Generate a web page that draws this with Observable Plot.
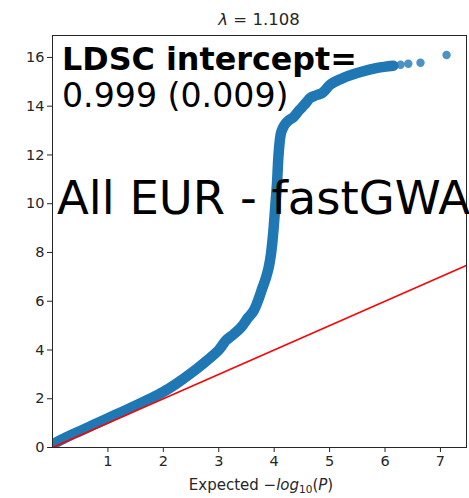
<!DOCTYPE html>
<html>
<head>
<meta charset="utf-8">
<script src="https://cdn.jsdelivr.net/npm/d3@7"></script>
<script src="https://cdn.jsdelivr.net/npm/@observablehq/plot@0.6"></script>
<style>
  html, body { margin: 0; padding: 0; background: #fff; }
  #chart svg { display: block; }
</style>
</head>
<body>
<div id="chart"></div>
<script>
// ---- data ----
const titleText = "1.108";
const xLabelParts = ["Expected ", "\u2212", "log", "10", "(", "P", ")"];
const annoBold = "LDSC intercept=";
const annoValue = "0.999 (0.009)";
const annoGroup = "All EUR - fastGWA";

// dense part of the QQ band (expected, observed -log10 P)
const qqX = [0.02, 0.25, 0.5, 0.75, 1.0, 1.25, 1.5, 1.75, 2.0, 2.25, 2.5, 2.75, 3.0, 3.13, 3.27, 3.40, 3.52, 3.63, 3.72, 3.79, 3.85, 3.90, 3.94, 3.97, 3.99, 4.02, 4.05, 4.08, 4.12, 4.16, 4.21, 4.28, 4.35, 4.42, 4.50, 4.58, 4.65, 4.76, 4.87, 5.02, 5.25, 5.56, 5.86, 6.15];
const qqY = [0.15, 0.42, 0.68, 0.94, 1.2, 1.46, 1.72, 1.99, 2.28, 2.64, 3.05, 3.5, 4.0, 4.39, 4.65, 4.92, 5.3, 5.61, 6.1, 6.56, 6.95, 7.38, 7.9, 8.5, 9.0, 9.9, 10.8, 12.05, 12.87, 13.12, 13.3, 13.45, 13.55, 13.75, 13.95, 14.15, 14.34, 14.45, 14.55, 14.9, 15.16, 15.4, 15.57, 15.66];

// sparse tail points
const tailX = [6.28, 6.42, 6.64, 7.11];
const tailY = [15.70, 15.74, 15.78, 16.10];

// expected line y = x
const refX = [0, 7.6];
const refY = [0, 7.6];

const xDomain = [0, 7.47];
const yDomain = [0, 16.9];
const xTicks = [1, 2, 3, 4, 5, 6, 7];
const yTicks = [0, 2, 4, 6, 8, 10, 12, 14, 16];

const band = qqX.map((x, i) => ({x, y: qqY[i]}));
const tail = tailX.map((x, i) => ({x, y: tailY[i]}));
const ref = refX.map((x, i) => ({x, y: refY[i]}));

const W = 469, H = 498, mL = 52, mR = 3, mT = 35, mB = 51;
const blue = "#1f77b4";

const svg = Plot.plot({
  width: W,
  height: H,
  marginLeft: mL,
  marginRight: mR,
  marginTop: mT,
  marginBottom: mB,
  style: {fontFamily: "DejaVu Sans", fontSize: "14.5px", color: "#262626", background: "#fff"},
  x: {domain: xDomain},
  y: {domain: yDomain},
  marks: [
    Plot.line(band, {x: "x", y: "y", stroke: blue, strokeWidth: 10.5, strokeLinecap: "round", strokeLinejoin: "round", curve: "catmull-rom", clip: true}),
    Plot.dot(tail, {x: "x", y: "y", r: 4.2, fill: blue, fillOpacity: 0.8, stroke: "none"}),
    Plot.line(ref, {x: "x", y: "y", stroke: "#ff0000", strokeWidth: 1.6, clip: true}),
    Plot.axisX({ticks: xTicks, tickSize: 5, tickPadding: 3, label: null}),
    Plot.axisY({ticks: yTicks, tickSize: 5, tickPadding: 3, label: null}),
    Plot.frame({stroke: "#262626", strokeWidth: 1})
  ]
});

document.getElementById("chart").appendChild(svg);

const s = d3.select(svg);
const cx = mL + (W - mL - mR) / 2;

// title
const t = s.append("text")
  .attr("x", cx).attr("y", 25)
  .attr("text-anchor", "middle")
  .attr("font-family", "DejaVu Sans").attr("font-size", 16.5).attr("fill", "#262626");
t.append("tspan").attr("font-style", "italic").text("\u03bb");
t.append("tspan").text(" = " + titleText);

// x label
const xl = s.append("text")
  .attr("x", cx + 2).attr("y", 490)
  .attr("text-anchor", "middle")
  .attr("font-family", "DejaVu Sans").attr("font-size", 15).attr("fill", "#262626");
xl.append("tspan").text(xLabelParts[0] + xLabelParts[1]);
xl.append("tspan").attr("font-style", "italic").text(xLabelParts[2]);
xl.append("tspan").attr("font-size", 10.5).attr("dy", 3).text(xLabelParts[3]);
xl.append("tspan").attr("dy", -3).text(xLabelParts[4]);
xl.append("tspan").attr("font-style", "italic").text(xLabelParts[5]);
xl.append("tspan").text(xLabelParts[6]);

// annotations
s.append("text")
  .attr("x", 62).attr("y", 70).attr("text-anchor", "start")
  .attr("font-family", "DejaVu Sans").attr("font-weight", "bold").attr("font-size", 31.8).attr("fill", "#000")
  .text(annoBold);
s.append("text")
  .attr("x", 62).attr("y", 107).attr("text-anchor", "start")
  .attr("font-family", "DejaVu Sans").attr("font-size", 33.2).attr("fill", "#000")
  .text(annoValue);
s.append("text")
  .attr("x", 57).attr("y", 214).attr("text-anchor", "start")
  .attr("font-family", "DejaVu Sans").attr("font-size", 46.5).attr("fill", "#000")
  .text(annoGroup);
</script>
</body>
</html>
